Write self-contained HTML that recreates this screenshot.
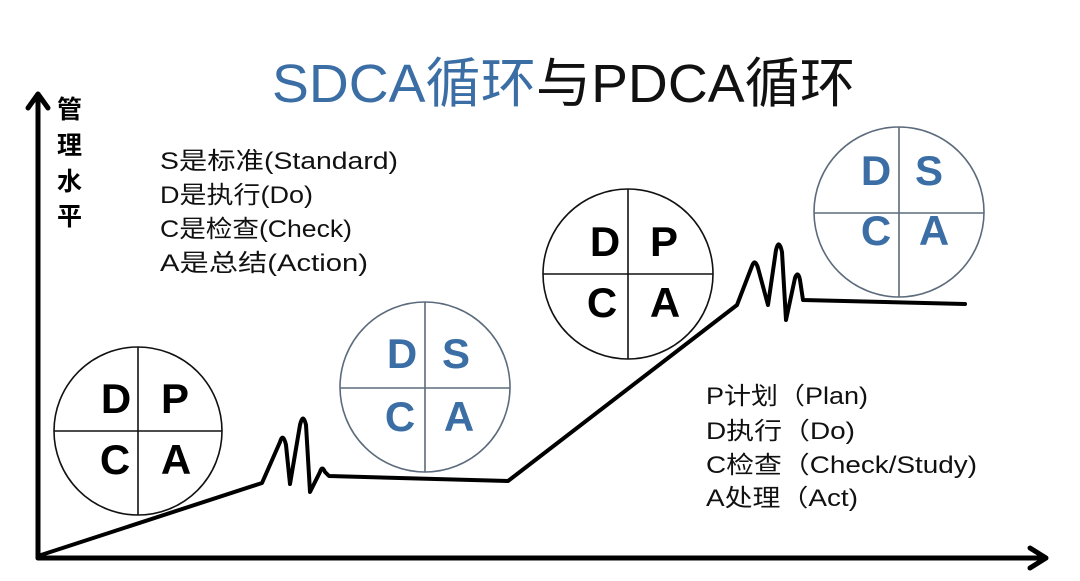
<!DOCTYPE html>
<html><head><meta charset="utf-8"><style>
html,body{margin:0;padding:0;background:#fff;width:1080px;height:581px;overflow:hidden}
svg{display:block}
.t{font-family:"Liberation Sans","Noto Sans CJK SC",sans-serif}
</style></head><body>
<svg width="1080" height="581" viewBox="0 0 1080 581" xmlns="http://www.w3.org/2000/svg">
<text class="t" x="272" y="102" font-size="54" fill="#3b6ea5" textLength="583" lengthAdjust="spacingAndGlyphs">SDCA循环<tspan fill="#111">与PDCA循环</tspan></text>
<!-- axes -->
<g stroke="#000" stroke-width="5" fill="none" stroke-linecap="round" stroke-linejoin="round">
<line x1="38" y1="558" x2="38" y2="95"/>
<polyline points="28,108 38,94 48,108"/>
<line x1="38" y1="558" x2="1045" y2="558"/>
<polyline points="1030,548 1046,558 1030,568"/>
</g>
<g class="t" font-weight="bold" font-size="25" fill="#000">
<text x="57" y="118">管</text><text x="57" y="154">理</text><text x="57" y="190">水</text><text x="57" y="225">平</text>
</g>
<g class="t" font-size="24" fill="#111" lengthAdjust="spacingAndGlyphs">
<text x="160" y="169" textLength="238" lengthAdjust="spacingAndGlyphs">S是标准(Standard)</text>
<text x="160" y="203" textLength="153" lengthAdjust="spacingAndGlyphs">D是执行(Do)</text>
<text x="160" y="237" textLength="192" lengthAdjust="spacingAndGlyphs">C是检查(Check)</text>
<text x="160" y="271" textLength="208" lengthAdjust="spacingAndGlyphs">A是总结(Action)</text>
<text x="706" y="404" textLength="162" lengthAdjust="spacingAndGlyphs">P计划（Plan)</text>
<text x="706" y="439" textLength="149" lengthAdjust="spacingAndGlyphs">D执行（Do)</text>
<text x="706" y="473" textLength="271" lengthAdjust="spacingAndGlyphs">C检查（Check/Study)</text>
<text x="706" y="506" textLength="152" lengthAdjust="spacingAndGlyphs">A处理（Act)</text>
</g>
<!-- curve -->
<path d="M38,556 L262,483 L280,442 Q283,432 286,445 L290,484 L300,425 Q303,412 306,425 L310,492 L320,472 Q322,465 325,472 L329,476 L508,481 L737,305 L752,266 Q755,258 758,268 L768,305 L776,250 Q779,238 782,252 L786,320 L795,278 Q798,270 800,280 L803,300 L965,304" fill="none" stroke="#000" stroke-width="4" stroke-linejoin="round" stroke-linecap="round"/>
<!-- circles -->
<g fill="none" stroke-width="1.6">
<g stroke="#111"><circle cx="138" cy="431" r="84"/><line x1="54" y1="431" x2="222" y2="431"/><line x1="138" y1="347" x2="138" y2="515"/>
<circle cx="628" cy="274" r="85"/><line x1="543" y1="274" x2="713" y2="274"/><line x1="628" y1="189" x2="628" y2="359"/></g>
<g stroke="#5c6b7c"><circle cx="425" cy="387" r="85"/><line x1="340" y1="388" x2="510" y2="388"/><line x1="425" y1="302" x2="425" y2="472"/>
<circle cx="899" cy="212" r="85"/><line x1="814" y1="213" x2="984" y2="213"/><line x1="899" y1="127" x2="899" y2="297"/></g>
</g>
<g class="t" font-weight="bold" font-size="42" text-anchor="middle">
<g fill="#000">
<text x="116" y="413">D</text><text x="175" y="413">P</text><text x="115" y="474">C</text><text x="176" y="474">A</text>
<text x="605" y="256">D</text><text x="664" y="256">P</text><text x="602" y="317">C</text><text x="665" y="317">A</text>
</g>
<g fill="#3b6ea5">
<text x="402" y="368">D</text><text x="456" y="368">S</text><text x="400" y="431">C</text><text x="459" y="431">A</text>
<text x="876" y="185">D</text><text x="929" y="185">S</text><text x="876" y="245">C</text><text x="934" y="245">A</text>
</g>
</g>
</svg>
</body></html>
